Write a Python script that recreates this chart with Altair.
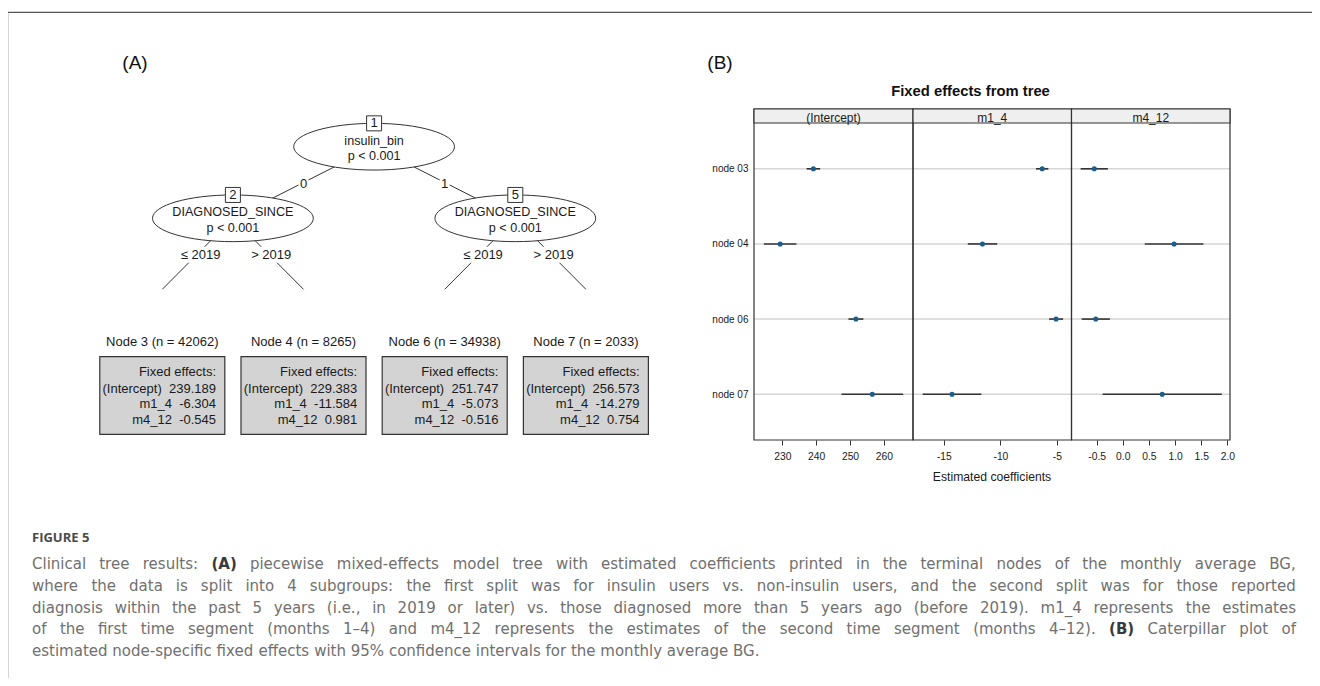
import altair as alt
import pandas as pd

# ---------------- data ----------------
terminal_ids = [3, 4, 6, 7]
terminal_n = [42062, 8265, 34938, 2033]
coef_names = ["(Intercept)", "m1_4", "m4_12"]
intercept_est = [239.189, 229.383, 251.747, 256.573]
m1_4_est = [-6.304, -11.584, -5.073, -14.279]
m4_12_est = [-0.545, 0.981, -0.516, 0.754]
# half widths of the 95% confidence intervals
intercept_hw = [2.0, 4.8, 2.2, 9.1]
m1_4_hw = [0.55, 1.3, 0.62, 2.6]
m4_12_hw = [0.26, 0.56, 0.27, 1.14]
node_names = ["node 03", "node 04", "node 06", "node 07"]

inner_ids = [1, 2, 5]
inner_vars = ["insulin_bin", "DIAGNOSED_SINCE", "DIAGNOSED_SINCE"]
inner_pvals = ["p < 0.001", "p < 0.001", "p < 0.001"]
split_labels = ["0", "1", "\u2264 2019", "> 2019", "\u2264 2019", "> 2019"]

intercept_ticks = [230, 240, 250, 260]
m1_4_ticks = [-15, -10, -5]
m4_12_ticks = [-0.5, 0.0, 0.5, 1.0, 1.5, 2.0]

panel_title = "Fixed effects from tree"
x_title = "Estimated coefficients"
caption_head = "FIGURE 5"
caption_lines = [
    "Clinical tree results: (A) piecewise mixed-effects model tree with estimated coefficients printed in the terminal nodes of the monthly average BG,",
    "where the data is split into 4 subgroups: the first split was for insulin users vs. non-insulin users, and the second split was for those reported",
    "diagnosis within the past 5 years (i.e., in 2019 or later) vs. those diagnosed more than 5 years ago (before 2019). m1_4 represents the estimates",
    "of the first time segment (months 1\u20134) and m4_12 represents the estimates of the second time segment (months 4\u201312). (B) Caterpillar plot of",
    "estimated node-specific fixed effects with 95% confidence intervals for the monthly average BG.",
]
caption_bold_words = ["(A)", "(B)"]

# ---------------- layout (page pixels, converted to chart pixels) ----------------
M = 8
W, H = 1304, 670


def P(v):
    return v - M


FONT = "Liberation Sans"
INK = "#1a1a1a"
LINE = "#333333"
DOT = "#1b5e8c"


def XP(f):
    return alt.X(f"{f}:Q", scale=None, axis=None)


def YP(f):
    return alt.Y(f"{f}:Q", scale=None, axis=None)


layers = []

# outer frame
frame_df = pd.DataFrame({"x": [P(7.6), P(7.6)], "y": [P(12.3), P(12.3)],
                         "x2": [W, P(7.6)], "y2": [P(12.3), H]})
layers.append(alt.Chart(frame_df).mark_rule(color="#555555", strokeWidth=1.3).encode(
    x=XP("x"), y=YP("y"), x2="x2:Q", y2="y2:Q"))

# ---- tree (partykit style layout) ----
T0, TD = 162.3, 141.2
term_cx = [T0 + i * TD for i in range(4)]
n2x = (term_cx[0] + term_cx[1]) / 2
n5x = (term_cx[2] + term_cx[3]) / 2
rootx = (n2x + n5x) / 2
inner_x = [rootx, n2x, n5x]
inner_y = [146.7, 218.3, 218.3]
EDGE_END_Y = 289.3
ELL_W, ELL_H = 160.8, 46.7

parents = [0, 0, 1, 1, 2, 2]
child_pos = [(n2x, inner_y[1]), (n5x, inner_y[2])] + [(cx, EDGE_END_Y) for cx in term_cx]
ex1 = [inner_x[p] for p in parents]
ey1 = [inner_y[p] for p in parents]
ex2 = [c[0] for c in child_pos]
ey2 = [c[1] for c in child_pos]
edges_df = pd.DataFrame({"x": [P(v) for v in ex1], "y": [P(v) for v in ey1],
                         "x2": [P(v) for v in ex2], "y2": [P(v) for v in ey2]})
layers.append(alt.Chart(edges_df).mark_rule(color=LINE, strokeWidth=1).encode(
    x=XP("x"), y=YP("y"), x2="x2:Q", y2="y2:Q"))

# edge labels with white background
mx = [(a + b) / 2 + (0 if len(s) == 1 else 3) for a, b, s in zip(ex1, ex2, split_labels)]
my = [(a + b) / 2 + 1 for a, b in zip(ey1, ey2)]
lw = [10 if len(s) == 1 else 42 for s in split_labels]
elab_df = pd.DataFrame({"x": [P(v) for v in mx], "y": [P(v) for v in my], "text": split_labels,
                        "x0": [P(v - w / 2) for v, w in zip(mx, lw)], "x1": [P(v + w / 2) for v, w in zip(mx, lw)],
                        "y0": [P(v - 8) for v in my], "y1": [P(v + 8) for v in my]})
layers.append(alt.Chart(elab_df).mark_rect(color="white").encode(
    x=XP("x0"), x2="x1:Q", y=YP("y0"), y2="y1:Q"))
layers.append(alt.Chart(elab_df).mark_text(font=FONT, fontSize=13, color=INK, baseline="middle").encode(
    x=XP("x"), y=YP("y"), text="text:N"))

# inner node ellipses
ry = ELL_H / ELL_W
k = 0.5523
ELL_PATH = (f"M-1,0C-1,{-ry*k:.4f},{-k:.4f},{-ry:.4f},0,{-ry:.4f}"
            f"C{k:.4f},{-ry:.4f},1,{-ry*k:.4f},1,0"
            f"C1,{ry*k:.4f},{k:.4f},{ry:.4f},0,{ry:.4f}"
            f"C{-k:.4f},{ry:.4f},-1,{ry*k:.4f},-1,0Z")
inner_df = pd.DataFrame({"x": [P(v) for v in inner_x], "y": [P(v) for v in inner_y],
                         "by": [P(v - ELL_H / 2) for v in inner_y],
                         "id": [str(i) for i in inner_ids]})
layers.append(alt.Chart(inner_df).mark_point(shape=ELL_PATH, size=ELL_W ** 2, filled=True, fill="white",
                                             stroke=LINE, strokeWidth=1, opacity=1).encode(
    x=XP("x"), y=YP("y")))
layers.append(alt.Chart(inner_df).mark_point(shape="square", size=225, filled=True, fill="white",
                                             stroke=LINE, strokeWidth=1, opacity=1).encode(
    x=XP("x"), y=YP("by")))
layers.append(alt.Chart(inner_df).mark_text(font=FONT, fontSize=13, color=INK, baseline="middle").encode(
    x=XP("x"), y=YP("by"), text="id:N"))
itext_df = pd.DataFrame({
    "x": [P(v) for v in inner_x] * 2,
    "y": [P(v - 6) for v in inner_y] + [P(v + 9.3) for v in inner_y],
    "text": inner_vars + inner_pvals})
layers.append(alt.Chart(itext_df).mark_text(font=FONT, fontSize=12.6, color=INK, baseline="middle").encode(
    x=XP("x"), y=YP("y"), text="text:N"))

# terminal nodes
BOX_W, BOX_T, BOX_B = 125, 356.7, 434.3
LABEL_Y = 342.3
LINE_Y = [372, 388.6, 404.3, 419.6]
tbox_df = pd.DataFrame({"x0": [P(c - BOX_W / 2) for c in term_cx], "x1": [P(c + BOX_W / 2) for c in term_cx],
                        "y0": [P(BOX_T)] * 4, "y1": [P(BOX_B)] * 4})
layers.append(alt.Chart(tbox_df).mark_rect(fill="#d3d3d3", stroke=LINE, strokeWidth=1.2).encode(
    x=XP("x0"), x2="x1:Q", y=YP("y0"), y2="y1:Q"))
tlab_df = pd.DataFrame({"x": [P(c) for c in term_cx], "y": [P(LABEL_Y)] * 4,
                        "text": [f"Node {i} (n = {n})" for i, n in zip(terminal_ids, terminal_n)]})
layers.append(alt.Chart(tlab_df).mark_text(font=FONT, fontSize=13, color=INK, baseline="middle").encode(
    x=XP("x"), y=YP("y"), text="text:N"))
rows = []
for j, c in enumerate(term_cx):
    texts = ["Fixed effects:",
             f"{coef_names[0]}\u00a0\u00a0{intercept_est[j]:.3f}",
             f"{coef_names[1]}\u00a0\u00a0{m1_4_est[j]:.3f}",
             f"{coef_names[2]}\u00a0\u00a0{m4_12_est[j]:.3f}"]
    for t, yy in zip(texts, LINE_Y):
        rows.append({"x": P(c + BOX_W / 2 - 8.8), "y": P(yy), "text": t})
layers.append(alt.Chart(pd.DataFrame(rows)).mark_text(font=FONT, fontSize=13, color=INK, baseline="middle",
                                                      align="right").encode(
    x=XP("x"), y=YP("y"), text="text:N"))

# ---- panel B: caterpillar plot ----
PB = [754, 913, 1071.5, 1230]
STRIP_T, STRIP_B, PLOT_B = 109, 123, 440
yscale = alt.Scale(type="point", domain=node_names, range=[P(STRIP_B), P(PLOT_B)], padding=0.61)

grid_df = pd.DataFrame({"node": node_names, "x0": [P(PB[0])] * 4, "x1": [P(PB[3])] * 4})
layers.append(alt.Chart(grid_df).mark_rule(color="#d6d6d6", strokeWidth=1.6).encode(
    x=XP("x0"), x2="x1:Q", y=alt.Y("node:N", scale=yscale, axis=None)))

pan_df = pd.DataFrame({"x0": [P(PB[i]) for i in range(3)], "x1": [P(PB[i + 1]) for i in range(3)],
                       "y0": [P(STRIP_T)] * 3, "y1": [P(PLOT_B)] * 3, "ys": [P(STRIP_B)] * 3,
                       "xc": [P((PB[i] + PB[i + 1]) / 2) for i in range(3)],
                       "yt": [P(121.6)] * 3, "text": coef_names})
layers.append(alt.Chart(pan_df).mark_rect(fillOpacity=0, stroke=LINE, strokeWidth=1.2).encode(
    x=XP("x0"), x2="x1:Q", y=YP("y0"), y2="y1:Q"))
layers.append(alt.Chart(pan_df).mark_rect(fill="#efefef", stroke=LINE, strokeWidth=1.2).encode(
    x=XP("x0"), x2="x1:Q", y=YP("y0"), y2="ys:Q"))
layers.append(alt.Chart(pan_df).mark_text(font=FONT, fontSize=12, color=INK, baseline="alphabetic").encode(
    x=XP("xc"), y=YP("yt"), text="text:N"))

est_lists = [intercept_est, m1_4_est, m4_12_est]
hw_lists = [intercept_hw, m1_4_hw, m4_12_hw]
domains = [[221.65, 268.6], [-17.73, -3.71], [-0.98, 2.05]]
tick_lists = [intercept_ticks, m1_4_ticks, m4_12_ticks]
fmts = ["d", "d", ".1f"]

for i in range(3):
    df = pd.DataFrame({"node": node_names, "est": est_lists[i],
                       "lo": [e - h for e, h in zip(est_lists[i], hw_lists[i])],
                       "hi": [e + h for e, h in zip(est_lists[i], hw_lists[i])]})
    xs = alt.Scale(domain=domains[i], range=[P(PB[i]), P(PB[i + 1])], nice=False, zero=False)
    xaxis = alt.Axis(orient="bottom", offset=-(H - P(PLOT_B)), values=tick_lists[i], format=fmts[i],
                     labelExpr="replace(datum.label, '\u2212', '-')",
                     domain=False, ticks=True, tickSize=5, tickColor=LINE, tickWidth=1, grid=False,
                     labelFont=FONT, labelFontSize=10.3, labelColor=INK, labelPadding=6,
                     labelFlush=False, labelOverlap=False, title=None)
    layers.append(alt.Chart(df).mark_rule(color=LINE, strokeWidth=1.6).encode(
        x=alt.X("lo:Q", scale=xs, axis=xaxis), x2="hi:Q",
        y=alt.Y("node:N", scale=yscale, axis=None)))
    if i == 0:
        yaxis = alt.Axis(orient="left", offset=-P(PB[0]), domain=False, ticks=False, tickSize=0,
                         labelPadding=6, labelFont=FONT, labelFontSize=10, labelColor=INK,
                         grid=False, title=None)
        yenc = alt.Y("node:N", scale=yscale, axis=yaxis)
    else:
        yenc = alt.Y("node:N", scale=yscale, axis=None)
    layers.append(alt.Chart(df).mark_circle(size=26, color=DOT, opacity=1).encode(
        x=alt.X("est:Q", scale=xs, axis=None), y=yenc))

# titles and panel letters
titles_df = pd.DataFrame({"x": [P(135), P(720)], "y": [P(62.5), P(62.5)], "text": ["(A)", "(B)"]})
layers.append(alt.Chart(titles_df).mark_text(font=FONT, fontSize=19, color="#111111", baseline="middle").encode(
    x=XP("x"), y=YP("y"), text="text:N"))
ptitle_df = pd.DataFrame({"x": [P(970.5)], "y": [P(91.7)], "text": [panel_title]})
layers.append(alt.Chart(ptitle_df).mark_text(font=FONT, fontSize=14.8, fontWeight="bold", color="#111111",
                                             baseline="middle").encode(
    x=XP("x"), y=YP("y"), text="text:N"))
xt_df = pd.DataFrame({"x": [P((PB[0] + PB[3]) / 2)], "y": [P(477)], "text": [x_title]})
layers.append(alt.Chart(xt_df).mark_text(font=FONT, fontSize=12.2, color=INK, baseline="middle").encode(
    x=XP("x"), y=YP("y"), text="text:N"))

# ---- caption: justified lines, word by word (DejaVu Sans advance widths, em) ----
CAP_FONT = "DejaVu Sans"
CAP_FS = 15
CAP_L, CAP_R = 32, 1296
CW = {" ": 0.318, "a": 0.613, "b": 0.635, "c": 0.550, "d": 0.635, "e": 0.615, "f": 0.352, "g": 0.635,
      "h": 0.634, "i": 0.278, "j": 0.278, "k": 0.579, "l": 0.278, "m": 0.974, "n": 0.634, "o": 0.612,
      "p": 0.635, "q": 0.635, "r": 0.411, "s": 0.521, "t": 0.392, "u": 0.634, "v": 0.592, "w": 0.818,
      "x": 0.592, "y": 0.592, "z": 0.525, "(": 0.390, ")": 0.390, ":": 0.337, ",": 0.318, ".": 0.318,
      "-": 0.361, "_": 0.500, "%": 0.950, "\u2013": 0.500, "A": 0.684, "B": 0.686, "C": 0.698,
      "G": 0.775, "I": 0.295}
CWB = {"(": 0.457, ")": 0.457, "A": 0.774, "B": 0.762}


def word_w(wd, bold):
    tbl = CWB if bold else CW
    return sum(tbl.get(ch, CW.get(ch, 0.636)) for ch in wd) * CAP_FS


cap_rows = []
for li, line in enumerate(caption_lines):
    words = line.split(" ")
    bolds = [wd in caption_bold_words for wd in words]
    widths = [word_w(wd, b) for wd, b in zip(words, bolds)]
    if li < len(caption_lines) - 1:
        gap = (CAP_R - CAP_L - sum(widths)) / (len(words) - 1)
    else:
        gap = CW[" "] * CAP_FS
    xx = CAP_L
    for wd, b, wdt in zip(words, bolds, widths):
        cap_rows.append({"x": P(xx), "y": P(564 + 21.8 * li), "text": wd, "bold": b})
        xx += wdt + gap
cap_df = pd.DataFrame(cap_rows)

head_df = pd.DataFrame({"x": [P(CAP_L)], "y": [P(537.6)], "text": [caption_head]})
layers.append(alt.Chart(head_df).mark_text(font="Open Sans", fontSize=13, fontWeight="bold", color="#4a4a4a",
                                           align="left", baseline="middle").encode(
    x=XP("x"), y=YP("y"), text="text:N"))
layers.append(alt.Chart(cap_df[~cap_df["bold"]]).mark_text(font=CAP_FONT, fontSize=CAP_FS, color="#707070",
                                                           align="left", baseline="middle").encode(
    x=XP("x"), y=YP("y"), text="text:N"))
layers.append(alt.Chart(cap_df[cap_df["bold"]]).mark_text(font=CAP_FONT, fontSize=CAP_FS, fontWeight="bold",
                                                          color="#3a3a3a", align="left",
                                                          baseline="middle").encode(
    x=XP("x"), y=YP("y"), text="text:N"))

chart = alt.layer(*layers).resolve_scale(x="independent", y="independent").properties(
    width=W, height=H, padding=0, autosize="none", background="white"
).configure_view(strokeWidth=0)

chart.save("out.html", embed_options={"renderer": "svg", "actions": False})
